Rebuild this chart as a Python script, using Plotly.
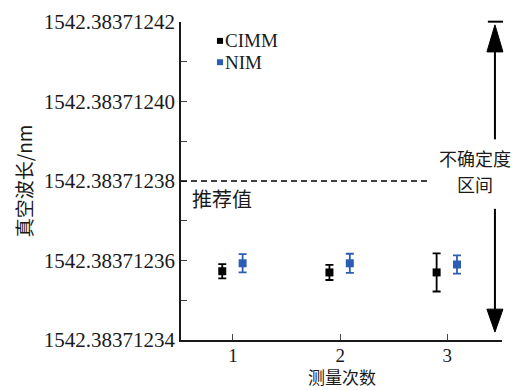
import plotly.graph_objects as go

# Measurement runs and vacuum wavelength results (nm)
runs = [1, 2, 3]
cimm_values = [1542.3837123573, 1542.3837123570, 1542.3837123570]
cimm_errors = [0.0000000018, 0.0000000019, 0.0000000048]
nim_values = [1542.3837123593, 1542.3837123593, 1542.3837123590]
nim_errors = [0.0000000023, 0.0000000024, 0.0000000023]
recommended = 1542.38371238
y_ticks = [1542.38371234, 1542.38371236, 1542.38371238, 1542.38371240, 1542.38371242]
series_names = ["CIMM", "NIM"]
interval_label = ["不确定度", "区间"]
x_title = "测量次数"

offset_cimm = -0.10
offset_nim = 0.09

serif = "Liberation Serif, Times New Roman, Noto Sans CJK SC, serif"
cjk = "Noto Sans CJK SC, Liberation Serif, serif"
blue = "#2b5db5"
ink = "#1a1a1a"
colors = ["black", blue]

fig = go.Figure()
fig.add_trace(go.Scatter(
    x=[r + offset_cimm for r in runs], y=cimm_values, mode="markers", name=series_names[0],
    marker=dict(symbol="square", size=8, color=colors[0]),
    error_y=dict(type="data", array=cimm_errors, color=colors[0], thickness=1.8, width=4),
))
fig.add_trace(go.Scatter(
    x=[r + offset_nim for r in runs], y=nim_values, mode="markers", name=series_names[1],
    marker=dict(symbol="square", size=8, color=colors[1]),
    error_y=dict(type="data", array=nim_errors, color=colors[1], thickness=1.8, width=4),
))

# compact legend: small square swatch followed by the series name
for i, (name, col) in enumerate(zip(series_names, colors)):
    yc = 0.9406 - i * 0.067
    fig.add_shape(type="rect", xref="x domain", yref="y domain",
                  x0=0.112, x1=0.131, y0=yc - 0.0094, y1=yc + 0.0094,
                  fillcolor=col, line=dict(width=0))
    fig.add_annotation(xref="x domain", yref="y domain", x=0.134, y=yc,
                       xanchor="left", yanchor="middle", text=name, showarrow=False,
                       borderpad=0, font=dict(family=serif, size=19, color=ink))

# recommended value
fig.add_shape(type="line", xref="x domain", yref="y", x0=0, x1=0.773,
              y0=recommended, y1=recommended,
              line=dict(color="black", width=1.3, dash="6px,4px"))
fig.add_annotation(xref="x domain", yref="y domain", x=0.128, y=0.444,
                   xanchor="center", yanchor="middle",
                   text="推荐值", showarrow=False, font=dict(family=cjk, size=20, color=ink))

# uncertainty interval double arrow
ax = 0.978
hw = 0.025
arrow_lines = [
    dict(x0=0.956, x1=1.003, y0=1.001, y1=1.001),
    dict(x0=ax, x1=ax, y0=0.906, y1=0.631),
    dict(x0=ax, x1=ax, y0=0.4125, y1=0.097),
]
for s in arrow_lines:
    fig.add_shape(type="line", xref="x domain", yref="y domain",
                  line=dict(color="black", width=2), **s)
fig.add_shape(type="path", xref="x domain", yref="y domain",
              path=f"M {ax} 0.991 L {ax-hw} 0.906 L {ax+hw} 0.906 Z",
              fillcolor="black", line=dict(color="black", width=1))
fig.add_shape(type="path", xref="x domain", yref="y domain",
              path=f"M {ax} 0.025 L {ax-hw} 0.097 L {ax+hw} 0.097 Z",
              fillcolor="black", line=dict(color="black", width=1))
for i, line in enumerate(interval_label):
    fig.add_annotation(xref="x domain", yref="y domain", x=0.917, y=0.572 - i * 0.0815,
                       xanchor="center", yanchor="middle", borderpad=0,
                       text=line, showarrow=False,
                       font=dict(family=cjk, size=18, color=ink))

# x-axis title, resting on the bottom edge of the page
fig.add_annotation(xref="x domain", yref="y domain", x=0.5, y=-0.1572,
                   xanchor="center", yanchor="bottom", borderpad=0,
                   text=x_title, showarrow=False,
                   font=dict(family=cjk, size=17, color=ink))

fig.update_layout(
    width=519, height=390,
    margin=dict(l=181, r=17, t=22, b=50),
    paper_bgcolor="white", plot_bgcolor="white",
    font=dict(family=serif, size=20, color=ink),
    showlegend=False,
)
fig.update_xaxes(
    range=[0.515, 3.51], tickvals=runs, ticks="inside", ticklen=6, tickwidth=1.3,
    showline=True, linecolor=ink, linewidth=1.5, showgrid=False, zeroline=False,
    automargin=False, ticklabelstandoff=-3,
    tickfont=dict(family=serif, size=19),
)
fig.update_yaxes(
    range=[y_ticks[0], y_ticks[-1]], tickvals=y_ticks, tickformat=".8f",
    ticks="inside", ticklen=6, tickwidth=1.3,
    minor=dict(ticks="inside", ticklen=6, tickwidth=1.3, dtick=0.00000001, tick0=y_ticks[0]),
    showline=True, linecolor=ink, linewidth=1.5, showgrid=False, zeroline=False,
    automargin=False,
    title=dict(text="真空波长/nm", font=dict(family=cjk, size=19), standoff=6),
    tickfont=dict(family=serif, size=21),
)

fig.write_html("out.html")
